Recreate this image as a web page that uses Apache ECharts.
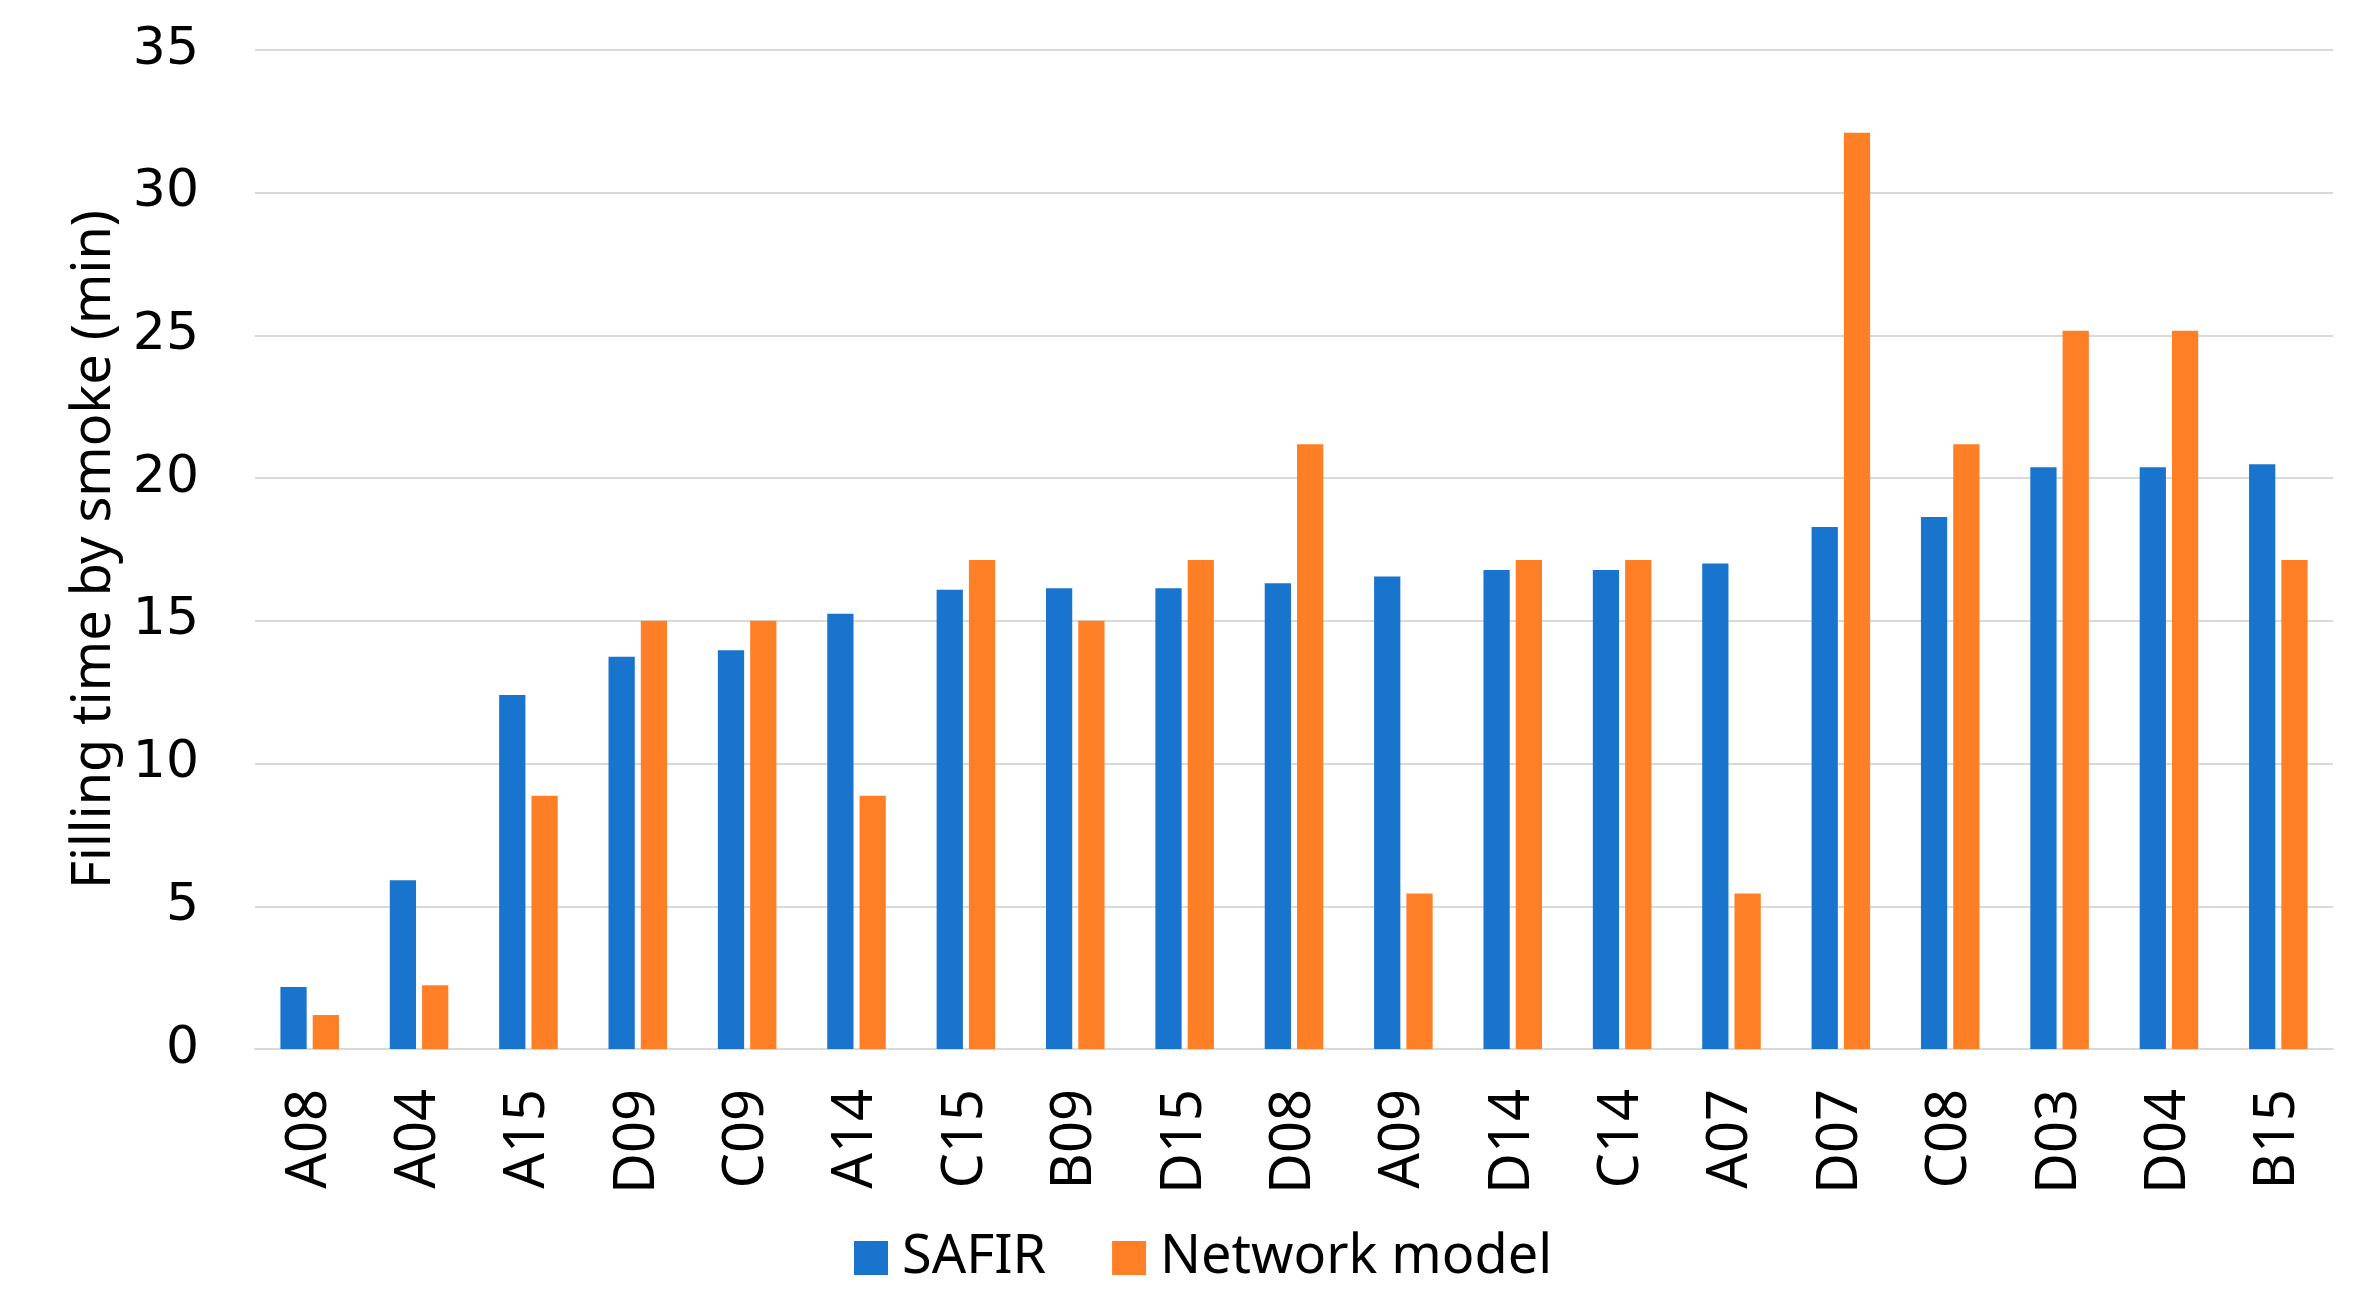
<!DOCTYPE html>
<html><head><meta charset="utf-8">
<script src="https://cdn.jsdelivr.net/npm/echarts@6/dist/echarts.min.js"></script>
<style>html,body{margin:0;padding:0;background:#fff}#c{width:2371px;height:1292px}</style>
</head><body><div id="c"></div>
<script>
const categories = ['A08','A04','A15','D09','C09','A14','C15','B09','D15','D08','A09','D14','C14','A07','D07','C08','D03','D04','B15'];
const safir = [2.17,5.91,12.4,13.74,13.97,15.25,16.09,16.14,16.14,16.32,16.55,16.78,16.78,17.01,18.29,18.64,20.38,20.38,20.49];
const network = [1.19,2.23,8.87,15.0,15.0,8.87,17.13,15.0,17.13,21.19,5.45,17.13,17.13,5.45,32.1,21.19,25.16,25.16,17.13];
const yTicks = {min:0, max:35, interval:5};

const chart = echarts.init(document.getElementById('c'));
const noto = '"Noto Sans","Open Sans",sans-serif';
chart.setOption({
  animation:false,
  grid:{left:255, right:38, top:50, bottom:243, containLabel:false},
  legend:{
    top:1231, left:854, itemWidth:34, itemHeight:34, itemGap:66, padding:0,
    icon:'rect',
    textStyle:{fontFamily:noto, fontSize:54, color:'#000', padding:[0,0,0,9]},
    data:['SAFIR','Network model']
  },
  xAxis:{
    type:'category', data:categories,
    axisLine:{show:true, lineStyle:{color:'#d9d9d9', width:2}},
    axisTick:{show:false},
    axisLabel:{rotate:90, margin:40, fontFamily:noto, fontSize:56, color:'#000', interval:0}
  },
  yAxis:{
    type:'value', min:yTicks.min, max:yTicks.max, interval:yTicks.interval,
    name:'Filling time by smoke (min)', nameLocation:'middle', nameGap:132, nameRotate:90,
    nameTextStyle:{fontFamily:noto, fontSize:54, color:'#000'},
    axisLine:{show:false}, axisTick:{show:false},
    splitLine:{lineStyle:{color:'#d9d9d9', width:2}},
    axisLabel:{fontFamily:'"DejaVu Sans",sans-serif', fontSize:52, color:'#000', margin:56}
  },
  series:[
    {name:'SAFIR', type:'bar', data:safir, barWidth:'24%', barGap:'23%', itemStyle:{color:'#1874cd'}},
    {name:'Network model', type:'bar', data:network, barWidth:'24%', barGap:'23%', itemStyle:{color:'#ff7f27'}}
  ]
});
</script></body></html>
